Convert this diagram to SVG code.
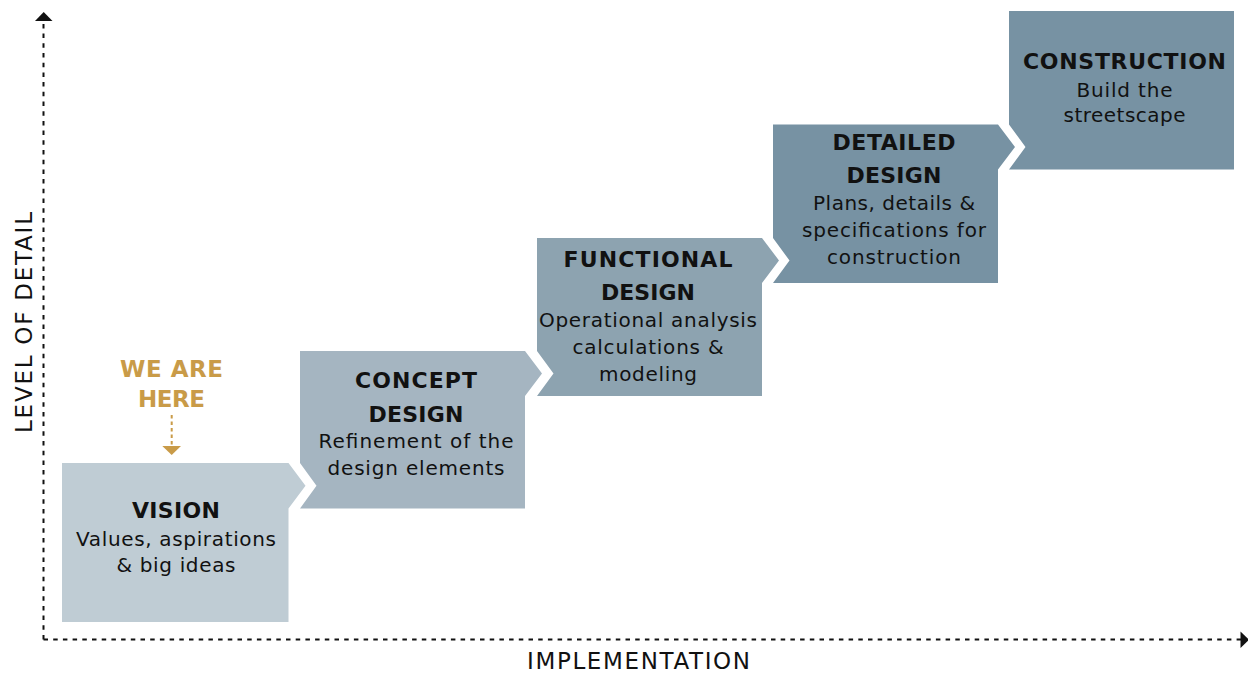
<svg xmlns="http://www.w3.org/2000/svg" width="1248" height="673" viewBox="0 0 1248 673">
  <style>
    .title { font-family: "DejaVu Sans", "Liberation Sans", sans-serif; font-weight: bold; font-size: 22px; fill: #111111; text-anchor: middle; }
    .body { font-family: "DejaVu Sans", "Liberation Sans", sans-serif; font-size: 20px; fill: #111111; text-anchor: middle; }
    .here { font-family: "DejaVu Sans", "Liberation Sans", sans-serif; font-weight: bold; font-size: 23px; fill: #c99b48; text-anchor: middle; }
    .axis-label { font-family: "DejaVu Sans", "Liberation Sans", sans-serif; font-size: 23px; fill: #111111; text-anchor: middle; }
    .axis { fill: none; stroke: #111111; stroke-width: 2; stroke-dasharray: 4.5 5.2; }
  </style>

  <rect width="1248" height="673" fill="#ffffff"/>

  <!-- Axes -->
  <g id="axes">
    <line class="axis" x1="43.5" y1="639.5" x2="43.5" y2="21"/>
    <polygon points="35,21 52.5,21 43.7,12" fill="#111111"/>
    <line class="axis" x1="43.5" y1="639.5" x2="1241" y2="639.5"/>
    <polygon points="1240.5,631.5 1240.5,648 1249,639.8" fill="#111111"/>
    <text class="axis-label" transform="translate(31.5,322.5) rotate(-90)" textLength="221">LEVEL OF DETAIL</text>
    <text class="axis-label" x="638.5" y="669" textLength="223">IMPLEMENTATION</text>
  </g>

  <!-- Stage boxes -->
  <g id="vision">
    <polygon points="62,463 288.5,463 305.5,485.75 288.5,508.5 288.5,622 62,622" fill="#bfccd4"/>
    <text class="title" x="176" y="518" textLength="88">VISION</text>
    <text class="body" x="176" y="545.7" textLength="200">Values, aspirations</text>
    <text class="body" x="176" y="572" textLength="119">&amp; big ideas</text>
  </g>

  <g id="concept-design">
    <polygon points="300,351 525,351 542,373.5 525,396 525,508.5 300,508.5 316.5,485.75 300,463" fill="#a5b5c1"/>
    <text class="title" x="416" y="388.3" textLength="122">CONCEPT</text>
    <text class="title" x="416" y="421.7" textLength="95">DESIGN</text>
    <text class="body" x="416" y="448.3" textLength="195">Refinement of the</text>
    <text class="body" x="416" y="475" textLength="177">design elements</text>
  </g>

  <g id="functional-design">
    <polygon points="537,238 762,238 779,260.5 762,283 762,396 537,396 553.5,373.5 537,351" fill="#8da3b0"/>
    <text class="title" x="648" y="267.3" textLength="169">FUNCTIONAL</text>
    <text class="title" x="648" y="300" textLength="94">DESIGN</text>
    <text class="body" x="648" y="326.7" textLength="218">Operational analysis</text>
    <text class="body" x="648" y="353.5" textLength="151">calculations &amp;</text>
    <text class="body" x="648" y="380.5" textLength="98">modeling</text>
  </g>

  <g id="detailed-design">
    <polygon points="773,124.5 998,124.5 1015,147 998,169.5 998,283 773,283 789.5,260.5 773,238" fill="#7792a3"/>
    <text class="title" x="894" y="150" textLength="123">DETAILED</text>
    <text class="title" x="894" y="183.3" textLength="95">DESIGN</text>
    <text class="body" x="894" y="210" textLength="162">Plans, details &amp;</text>
    <text class="body" x="894" y="237" textLength="184">specifications for</text>
    <text class="body" x="894" y="263.5" textLength="134">construction</text>
  </g>

  <g id="construction">
    <polygon points="1009,11 1234,11 1234,169.5 1009,169.5 1025.5,147 1009,124.5" fill="#7792a3"/>
    <text class="title" x="1124.5" y="69.3" textLength="203">CONSTRUCTION</text>
    <text class="body" x="1124.5" y="96.7" textLength="96">Build the</text>
    <text class="body" x="1124.5" y="121.7" textLength="122">streetscape</text>
  </g>

  <!-- Current-stage marker -->
  <g id="we-are-here">
    <text class="here" x="171.5" y="377.3" textLength="103">WE ARE</text>
    <text class="here" x="171.5" y="406.7" textLength="67">HERE</text>
  </g>

  <g id="connectors">
    <line x1="171.7" y1="415" x2="171.7" y2="446" stroke="#c99b48" stroke-width="2" stroke-dasharray="3.5 3"/>
    <polygon points="162.3,446 181,446 171.7,455" fill="#c99b48"/>
  </g>
</svg>
